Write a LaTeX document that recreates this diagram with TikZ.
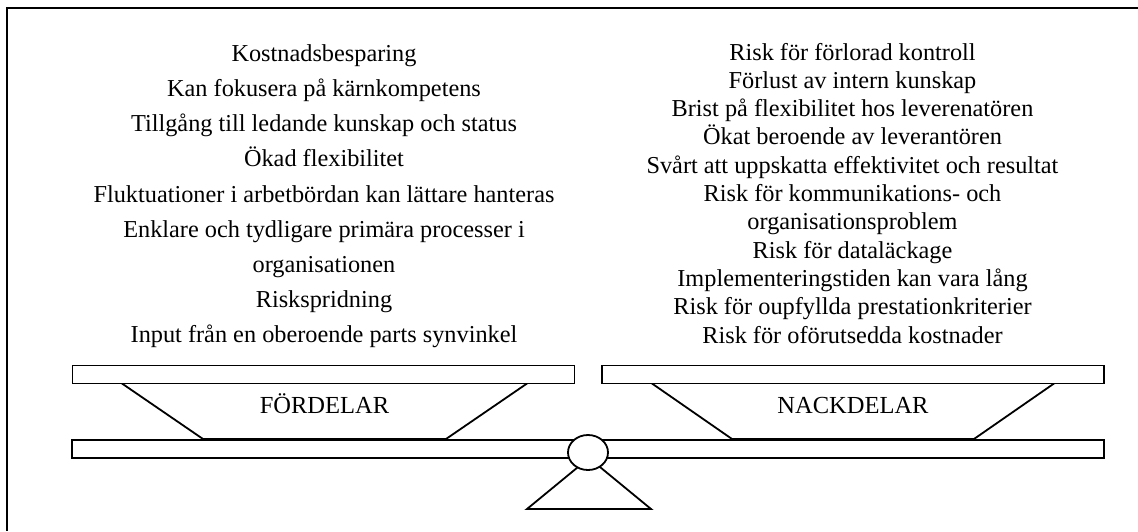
\documentclass[tikz,border=0pt]{standalone}
\usepackage{fontspec}
\usetikzlibrary{shapes.geometric}
\setmainfont{Liberation Serif}
\begin{document}
\begin{tikzpicture}[x=1pt,y=-1pt,
  line/.style={draw=black,line width=1.8pt},
  frameline/.style={draw=black,line width=2.2pt},
  plank/.style={draw=black,line width=1.8pt,fill=white,rectangle,inner sep=0pt,minimum height=18pt},
  pivotshape/.style={draw=black,line width=1.8pt,fill=white,ellipse,inner sep=0pt},
  txt/.style={anchor=base,inner sep=0pt,font=\fontsize{24.3}{28}\selectfont},
  lbl/.style={anchor=base,inner sep=0pt,font=\fontsize{24.5}{28}\selectfont}]
\useasboundingbox (0,0) rectangle (1138,531);
% frame (top and left edges)
\coordinate (ftl) at (7,8);
\coordinate (ftr) at (1138,8);
\coordinate (fbl) at (7,531);
\draw[frameline] (ftr) -- (ftl) -- (fbl);

% left column
\node[txt] (l1) at (324,61) {Kostnadsbesparing};
\node[txt] (l2) at (324,96) {Kan fokusera på kärnkompetens};
\node[txt] (l3) at (324,131) {Tillgång till ledande kunskap och status};
\node[txt] (l4) at (324,166.5) {Ökad flexibilitet};
\node[txt] (l5) at (324,202) {Fluktuationer i arbetbördan kan lättare hanteras};
\node[txt] (l6) at (324,237) {Enklare och tydligare primära processer i};
\node[txt] (l7) at (324,272) {organisationen};
\node[txt] (l8) at (324,307) {Riskspridning};
\node[txt] (l9) at (324,342) {Input från en oberoende parts synvinkel};

% right column
\node[txt] (r1) at (852.5,60) {Risk för förlorad kontroll};
\node[txt] (r2) at (852.5,88.3) {Förlust av intern kunskap};
\node[txt] (r3) at (852.5,116.6) {Brist på flexibilitet hos leverenatören};
\node[txt] (r4) at (852.5,144.9) {Ökat beroende av leverantören};
\node[txt] (r5) at (852.5,173.2) {Svårt att uppskatta effektivitet och resultat};
\node[txt] (r6) at (852.5,201.5) {Risk för kommunikations- och};
\node[txt] (r7) at (852.5,229.8) {organisationsproblem};
\node[txt] (r8) at (852.5,258.1) {Risk för dataläckage};
\node[txt] (r9) at (852.5,286.4) {Implementeringstiden kan vara lång};
\node[txt] (r10) at (852.5,314.7) {Risk för oupfyllda prestationkriterier};
\node[txt] (r11) at (852.5,343) {Risk för oförutsedda kostnader};

% support triangle
\coordinate (tl) at (527,509);
\coordinate (tr) at (651,509);
\coordinate (ta) at (589,458);
\draw[line,line join=miter] (ta) -- (tl) -- (tr) -- cycle;

% trapezoids
\coordinate (a1) at (122,383.5);
\coordinate (a2) at (203,439);
\coordinate (a3) at (446,439);
\coordinate (a4) at (527,383.5);
\draw[line] (a1) -- (a2) -- (a3) -- (a4);
\coordinate (b1) at (652,383.5);
\coordinate (b2) at (732,439);
\coordinate (b3) at (974,439);
\coordinate (b4) at (1054,383.5);
\draw[line] (b1) -- (b2) -- (b3) -- (b4);

% planks
\node[plank,minimum width=502pt] (lp) at (323.5,374.5) {};
\node[plank,minimum width=502pt] (rp) at (853,374.5) {};
\node[plank,minimum width=1032pt] (beam) at (588,449) {};

% pivot
\node[pivotshape,minimum width=40pt,minimum height=35pt] (piv) at (588,452.5) {};

% labels
\node[lbl] (fd) at (324.5,413.5) {FÖRDELAR};
\node[lbl] (nd) at (853,413.5) {NACKDELAR};
\end{tikzpicture}
\end{document}
